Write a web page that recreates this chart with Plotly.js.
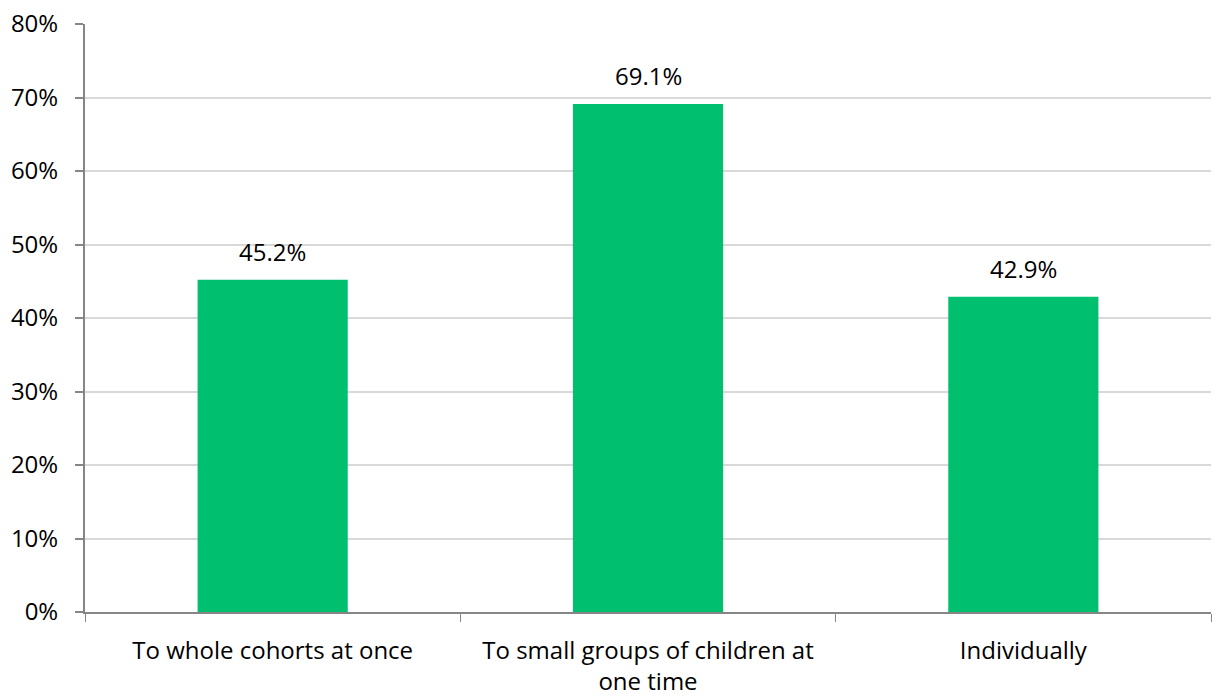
<!DOCTYPE html>
<html>
<head>
<meta charset="utf-8">
<script src="https://cdn.plot.ly/plotly-3.0.1.min.js"></script>
<style>
  html, body { margin: 0; padding: 0; background: #fff; }
  #chart { width: 1217px; height: 696px; }
</style>
</head>
<body>
<div id="chart"></div>
<script>
// Share of respondents by delivery approach
const categories = [
  "To whole cohorts at once",
  "To small groups of children at<br>one time",
  "Individually"
];
const values = [45.2, 69.1, 42.9];
const valueLabels = ["45.2%", "69.1%", "42.9%"];
const tickValues = [0, 10, 20, 30, 40, 50, 60, 70, 80];
const tickLabels = ["0%", "10%", "20%", "30%", "40%", "50%", "60%", "70%", "80%"];

const fontFamily = "'Open Sans', 'Noto Sans', 'Liberation Sans', sans-serif";
const fontSize = 24;

const trace = {
  type: "bar",
  x: categories,
  y: values,
  marker: { color: "#00BF6F" },
  width: 0.4,
  hoverinfo: "skip"
};

const annotations = categories.map((c, i) => ({
  x: c,
  y: values[i],
  xref: "x",
  yref: "y",
  text: valueLabels[i],
  showarrow: false,
  yanchor: "bottom",
  yshift: 10,
  font: { family: fontFamily, size: fontSize, color: "#000" }
}));

const layout = {
  width: 1217,
  height: 696,
  margin: { l: 85, r: 6, t: 24, b: 84 },
  paper_bgcolor: "#fff",
  plot_bgcolor: "#fff",
  showlegend: false,
  font: { family: fontFamily, size: fontSize, color: "#000" },
  xaxis: {
    type: "category",
    showline: true,
    linecolor: "#868686",
    linewidth: 2,
    ticks: "outside",
    tickson: "boundaries",
    ticklen: 8,
    tickwidth: 1,
    tickcolor: "#868686",
    showgrid: false,
    ticklabelstandoff: 16,
    tickfont: { family: fontFamily, size: fontSize, color: "#000" },
    automargin: false
  },
  yaxis: {
    range: [0, 80],
    tickvals: tickValues,
    ticktext: tickLabels,
    showline: true,
    linecolor: "#868686",
    linewidth: 2,
    ticks: "outside",
    ticklen: 8,
    tickwidth: 2,
    tickcolor: "#868686",
    showgrid: true,
    gridcolor: "#d9d9d9",
    gridwidth: 2,
    zeroline: false,
    ticklabelstandoff: 12,
    tickfont: { family: fontFamily, size: fontSize, color: "#000" },
    automargin: false
  },
  annotations: annotations
};

Plotly.newPlot("chart", [trace], layout, { displayModeBar: false, staticPlot: true });
</script>
</body>
</html>
